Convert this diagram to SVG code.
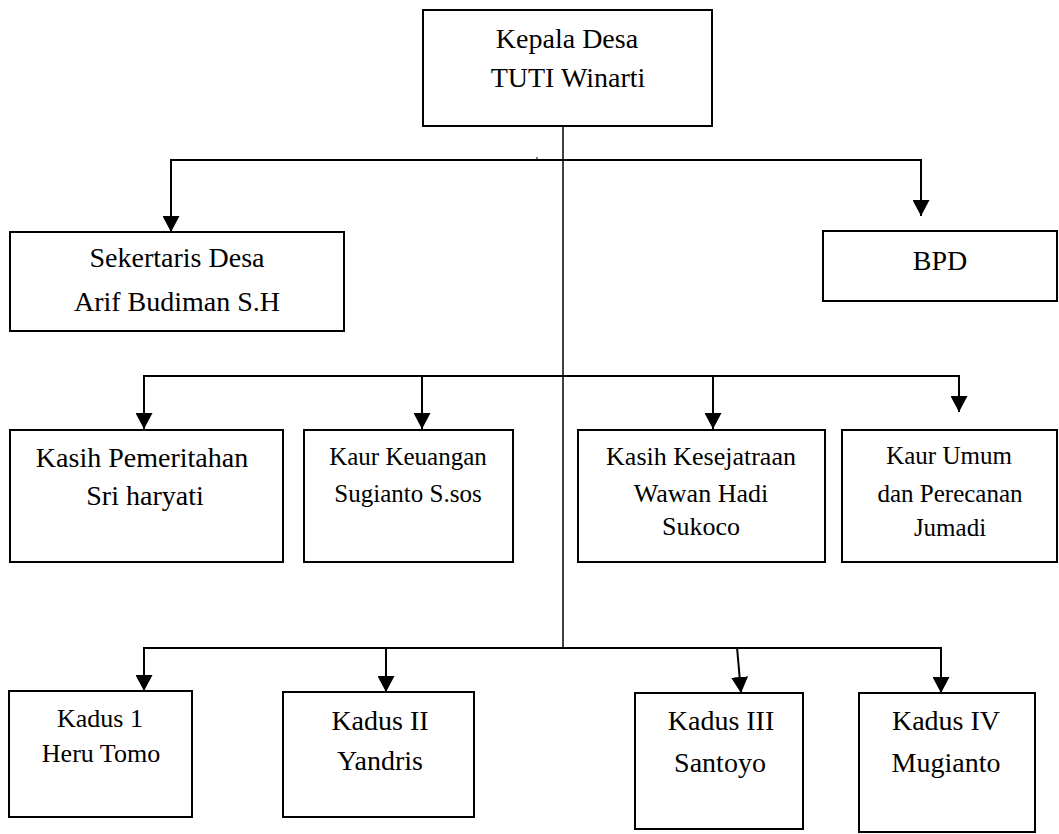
<svg xmlns="http://www.w3.org/2000/svg" width="1059" height="834" viewBox="0 0 1059 834">
<style>
.box{fill:#fff;stroke:#000;stroke-width:2}
.t{font-family:"Liberation Serif","Times New Roman",serif;font-size:28px;fill:#000;text-anchor:middle}
.s{font-size:25px}
.m{font-size:26px}
.c{fill:none;stroke:#000;stroke-width:2}
.trunk{fill:none;stroke:#000;stroke-width:1.5}
</style>
<defs>
<marker id="ah" markerUnits="userSpaceOnUse" markerWidth="16" markerHeight="17" refX="16" refY="8.5" orient="auto" viewBox="0 0 16 17">
<path d="M0,0 L16,8.5 L0,17 Z" fill="#000"/>
</marker>
</defs>
<rect width="1059" height="834" fill="#fff"/>
<g id="connectors">
<line class="trunk" x1="563" y1="126" x2="563" y2="648"/>
<line x1="537" y1="157" x2="537" y2="160" stroke="#000" stroke-width="1"/>
<polyline class="c" points="171,160 921,160"/>
<line class="c" x1="171" y1="159" x2="171" y2="232" marker-end="url(#ah)"/>
<line class="c" x1="921" y1="159" x2="921" y2="216" marker-end="url(#ah)"/>
<polyline class="c" points="144,376 959,376"/>
<line class="c" x1="144" y1="375" x2="144" y2="429" marker-end="url(#ah)"/>
<line class="c" x1="422" y1="375" x2="422" y2="429" marker-end="url(#ah)"/>
<line class="c" x1="713" y1="375" x2="713" y2="429" marker-end="url(#ah)"/>
<line class="c" x1="959" y1="375" x2="959" y2="412" marker-end="url(#ah)"/>
<polyline class="c" points="144,648 942,648"/>
<line class="c" x1="144" y1="647" x2="144" y2="691" marker-end="url(#ah)"/>
<line class="c" x1="386" y1="647" x2="386" y2="692" marker-end="url(#ah)"/>
<line class="c" x1="737" y1="647" x2="741" y2="693" marker-end="url(#ah)"/>
<line class="c" x1="941" y1="647" x2="941" y2="693" marker-end="url(#ah)"/>
</g>
<g id="kepala-desa">
<rect class="box" x="423" y="10" width="289" height="116"/>
<text class="t" x="567" y="48">Kepala Desa</text>
<text class="t" x="568" y="87">TUTI Winarti</text>
</g>
<g id="sekertaris-desa">
<rect class="box" x="10" y="232" width="334" height="99"/>
<text class="t" x="177" y="267">Sekertaris Desa</text>
<text class="t" x="177" y="311">Arif Budiman S.H</text>
</g>
<g id="bpd">
<rect class="box" x="823" y="231" width="234" height="70"/>
<text class="t" x="940" y="270">BPD</text>
</g>
<g id="kasih-pemeritahan">
<rect class="box" x="10" y="430" width="273" height="132"/>
<text class="t" x="142" y="467">Kasih Pemeritahan</text>
<text class="t" x="145" y="505">Sri haryati</text>
</g>
<g id="kaur-keuangan">
<rect class="box" x="304" y="430" width="209" height="132"/>
<text class="t s" x="408" y="465">Kaur Keuangan</text>
<text class="t s" x="408" y="502">Sugianto S.sos</text>
</g>
<g id="kasih-kesejatraan">
<rect class="box" x="578" y="430" width="247" height="132"/>
<text class="t m" x="701" y="465">Kasih Kesejatraan</text>
<text class="t m" x="701" y="502">Wawan Hadi</text>
<text class="t m" x="701" y="535">Sukoco</text>
</g>
<g id="kaur-umum">
<rect class="box" x="842" y="430" width="215" height="132"/>
<text class="t s" x="949" y="464">Kaur Umum</text>
<text class="t s" x="950" y="502">dan Perecanan</text>
<text class="t s" x="950" y="536">Jumadi</text>
</g>
<g id="kadus-1">
<rect class="box" x="9" y="691" width="183" height="126"/>
<text class="t m" x="100" y="727">Kadus 1</text>
<text class="t m" x="101" y="762">Heru Tomo</text>
</g>
<g id="kadus-2">
<rect class="box" x="283" y="692" width="191" height="125"/>
<text class="t" x="380" y="730">Kadus II</text>
<text class="t" x="380" y="770">Yandris</text>
</g>
<g id="kadus-3">
<rect class="box" x="635" y="693" width="168" height="136"/>
<text class="t" x="721" y="730">Kadus III</text>
<text class="t" x="720" y="772">Santoyo</text>
</g>
<g id="kadus-4">
<rect class="box" x="859" y="693" width="176" height="139"/>
<text class="t" x="946" y="730">Kadus IV</text>
<text class="t" x="946" y="772">Mugianto</text>
</g>
</svg>
